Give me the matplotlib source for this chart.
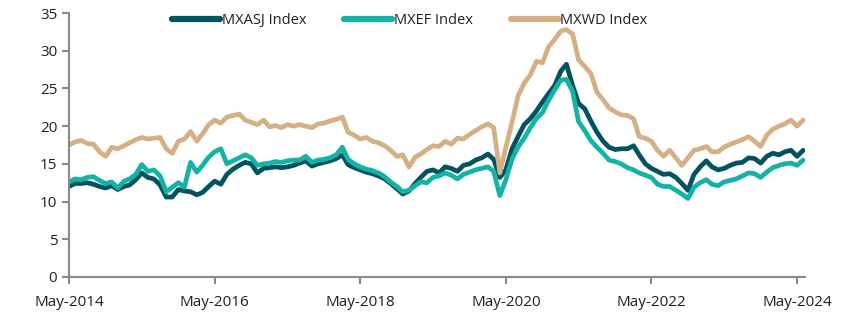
import pandas as pd
import matplotlib
matplotlib.use("Agg")
import matplotlib.pyplot as plt
import matplotlib.dates as mdates

plt.rcParams['font.family'] = ['Open Sans', 'DejaVu Sans']

# monthly forward P/E, May 2014 - Jun 2024
dates = pd.date_range('2014-05-01', periods=122, freq='MS')

mxasj = [12.0, 12.4, 12.4, 12.5, 12.3, 12.0, 11.8, 12.1, 11.6, 12.0, 12.2, 12.9,
         13.8, 13.2, 13.0, 12.2, 10.6, 10.6, 11.6, 11.4, 11.3, 10.9, 11.2, 12.0,
         12.7, 12.3, 13.6, 14.3, 14.8, 15.2, 15.0, 13.8, 14.4, 14.5, 14.6, 14.5,
         14.6, 14.8, 15.1, 15.4, 14.7, 15.0, 15.2, 15.4, 15.7, 16.2, 14.9, 14.5,
         14.2, 13.9, 13.7, 13.4, 13.0, 12.4, 11.7, 11.0, 11.4, 12.4, 13.2, 14.0,
         14.2, 13.8, 14.6, 14.4, 14.0, 14.8, 15.0, 15.5, 15.8, 16.3, 15.6, 13.2,
         14.2, 17.0, 18.6, 20.2, 21.0, 22.0, 23.2, 24.3, 25.4, 27.3, 28.2, 25.4,
         23.0, 22.3, 20.7, 19.2, 18.0, 17.2, 16.9, 17.0, 17.0, 17.4, 16.2, 15.0,
         14.4, 14.0, 13.6, 13.7, 13.2, 12.4, 11.5, 13.6, 14.6, 15.4, 14.6, 14.2,
         14.4, 14.8, 15.1, 15.2, 15.8, 15.7, 15.1, 16.0, 16.4, 16.2, 16.6, 16.8,
         16.0, 16.8]

mxef = [12.6, 13.0, 12.9, 13.2, 13.3, 12.8, 12.4, 12.6, 11.8, 12.7, 13.0, 13.6,
        14.9, 14.0, 14.2, 13.4, 11.3, 11.9, 12.5, 11.9, 15.2, 13.9, 14.8, 15.9,
        16.6, 17.0, 15.0, 15.4, 15.8, 16.2, 15.8, 14.8, 15.0, 15.1, 15.3, 15.2,
        15.4, 15.5, 15.5, 16.0, 15.2, 15.5, 15.6, 15.8, 16.2, 17.2, 15.6, 15.0,
        14.6, 14.3, 14.1, 13.8, 13.3, 12.6, 12.0, 11.3, 11.5, 12.1, 12.6, 12.5,
        13.2, 13.4, 13.8, 13.5, 13.0, 13.6, 13.9, 14.2, 14.4, 14.6, 14.0, 10.8,
        12.9, 15.6, 17.2, 18.4, 19.8, 21.0, 21.8, 23.4, 24.8, 26.1, 26.2, 24.6,
        20.6, 19.4, 18.1, 17.2, 16.4, 15.5, 15.3, 15.0, 14.5, 14.2, 13.8, 13.5,
        13.2, 12.3, 12.0, 12.0, 11.5, 11.0, 10.4, 11.9, 12.5, 12.9, 12.3, 12.1,
        12.6, 12.8, 13.0, 13.4, 13.8, 13.7, 13.2, 13.9, 14.5, 14.8, 15.0, 15.1,
        14.8, 15.5]

mxwd = [17.5, 17.9, 18.1, 17.7, 17.6, 16.6, 16.0, 17.2, 17.0, 17.4, 17.8, 18.2,
        18.5, 18.3, 18.4, 18.5, 17.0, 16.4, 18.0, 18.3, 19.3, 18.0, 19.0, 20.2,
        20.8, 20.4, 21.2, 21.4, 21.6, 20.8, 20.5, 20.2, 20.8, 19.9, 20.1, 19.8,
        20.2, 20.0, 20.2, 20.0, 19.8, 20.3, 20.4, 20.7, 20.9, 21.2, 19.2, 18.8,
        18.3, 18.5, 18.0, 17.8, 17.4, 16.8, 16.0, 16.2, 14.6, 15.9, 16.3, 16.9,
        17.4, 17.3, 18.0, 17.6, 18.4, 18.3, 18.9, 19.4, 19.9, 20.3, 19.8, 13.8,
        17.2, 20.5, 24.0, 25.7, 26.8, 28.6, 28.4, 30.5, 31.5, 32.6, 32.8, 32.2,
        28.8, 27.9, 27.0, 24.5, 23.5, 22.4, 21.9, 21.5, 21.4, 21.0, 18.6, 18.4,
        18.0, 16.8, 16.0, 16.8, 15.8, 14.8, 15.8, 16.8, 17.0, 17.3, 16.6, 16.6,
        17.2, 17.6, 17.9, 18.2, 18.6, 18.0, 17.3, 18.8, 19.6, 20.0, 20.3, 20.8,
        20.0, 20.8]

series = [
    ('MXASJ Index', mxasj, '#00535f'),
    ('MXEF Index', mxef, '#13b3a6'),
    ('MXWD Index', mxwd, '#d4b084'),
]

fig = plt.figure(figsize=(8.55, 3.36), dpi=100)
ax = fig.add_axes([0.0807, 0.1756, 0.8608, 0.7857])

for name, vals, col in series:
    ax.plot(dates, vals, color=col, linewidth=3.4, label=name,
            solid_joinstyle='round', solid_capstyle='round')

ax.set_ylim(0, 35)
ax.set_yticks(range(0, 36, 5))
ax.set_xlim(pd.Timestamp('2014-05-01'), pd.Timestamp('2024-06-10'))
ax.set_xticks(pd.date_range('2014-05-01', '2024-05-01', freq='24MS'))
ax.xaxis.set_major_formatter(mdates.DateFormatter('%b-%Y'))

axis_grey = '#8a8a8a'
for s in ['top', 'right']:
    ax.spines[s].set_visible(False)
for s in ['left', 'bottom']:
    ax.spines[s].set_color(axis_grey)
    ax.spines[s].set_linewidth(1.5)
ax.tick_params(axis='both', colors=axis_grey, labelcolor='#231f20',
               labelsize=11, width=1.5, length=5)
ax.tick_params(axis='x', pad=8)

leg = ax.legend(loc='upper center', bbox_to_anchor=(0.463, 1.05), ncol=3,
                frameon=False, fontsize=10.5, handlelength=3.3,
                handletextpad=0.1, columnspacing=2.6)
for line in leg.get_lines():
    line.set_linewidth(4.5)
for t in leg.get_texts():
    t.set_color('#231f20')

fig.savefig('out.png', dpi=100)
